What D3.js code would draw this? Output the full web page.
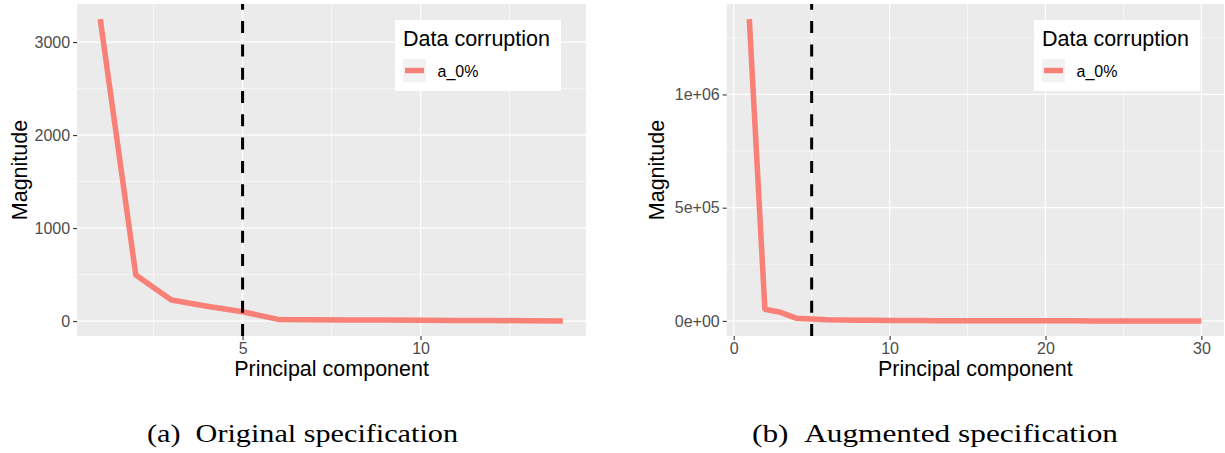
<!DOCTYPE html>
<html><head><meta charset="utf-8">
<script src="https://cdn.jsdelivr.net/npm/d3@7"></script>
<style>body{margin:0;background:#fff}svg{display:block}</style>
</head><body>
<script>
// ---- data ----
const leftPC = d3.range(1, 15);
const leftValues = [3247, 495, 226, 160, 100, 18, 15, 13, 11, 9, 7, 6, 4, 2];
const leftYTicks = [0, 1000, 2000, 3000];
const leftYMinor = [500, 1500, 2500];
const leftXTicks = [5, 10];
const leftXMinor = [2.5, 7.5, 12.5];

const rightPC = d3.range(1, 31);
const rightValues = [1332700, 51600, 38000, 12000, 8000, 5000, 4000, 3000, 2500, 2000,
  1600, 1300, 1100, 900, 700, 600, 500, 400, 350, 300, 250, 200, 150, 120, 100, 80, 60, 40, 20, 10];
const rightYTicks = [0, 500000, 1000000];
const rightYTickLabels = ["0e+00", "5e+05", "1e+06"];
const rightYMinor = [250000, 750000, 1250000];
const rightXTicks = [0, 10, 20, 30];
const rightXMinor = [5, 15, 25];

const cutoff = 5;
const seriesName = "a_0%";
const legendTitle = "Data corruption";
const captions = ["(a)\u2002Original specification", "(b)\u2002Augmented specification"];

const W = 1225, H = 453;
const svg = d3.select("body").append("svg").attr("width", W).attr("height", H);
svg.append("rect").attr("width", W).attr("height", H).attr("fill", "#fff");

const sans = "'Liberation Sans', Arial, sans-serif";

function panel(cfg) {
  const {x0, x1, y0, y1, pcs, vals, yTicks, yLabels, yMinor, xTicks, xMinor, titleX, legendX, caption, capX, capLen} = cfg;
  const g = svg.append("g");
  const xd = d3.extent(pcs), xe = (xd[1] - xd[0]) * 0.05;
  const yd = [0, d3.max(vals)], ye = (yd[1] - d3.min(vals)) * 0.05;
  const x = d3.scaleLinear().domain([xd[0] - xe, xd[1] + xe]).range([x0, x1]);
  const y = d3.scaleLinear().domain([d3.min(vals) - ye, yd[1] + ye]).range([y1, y0]);

  g.append("rect").attr("x", x0).attr("y", y0).attr("width", x1 - x0).attr("height", y1 - y0).attr("fill", "#EBEBEB");
  // minor grid
  g.selectAll(".ymn").data(yMinor).join("line")
    .attr("x1", x0).attr("x2", x1).attr("y1", d => y(d)).attr("y2", d => y(d))
    .attr("stroke", "#fff").attr("stroke-width", 0.6);
  g.selectAll(".xmn").data(xMinor).join("line")
    .attr("y1", y0).attr("y2", y1).attr("x1", d => x(d)).attr("x2", d => x(d))
    .attr("stroke", "#fff").attr("stroke-width", 0.6);
  // major grid
  g.selectAll(".ymj").data(yTicks).join("line")
    .attr("x1", x0).attr("x2", x1).attr("y1", d => y(d)).attr("y2", d => y(d))
    .attr("stroke", "#fff").attr("stroke-width", 1.3);
  g.selectAll(".xmj").data(xTicks).join("line")
    .attr("y1", y0).attr("y2", y1).attr("x1", d => x(d)).attr("x2", d => x(d))
    .attr("stroke", "#fff").attr("stroke-width", 1.3);

  // axes
  const ya = d3.axisLeft(y).tickValues(yTicks).tickSize(4).tickPadding(3)
    .tickFormat((d, i) => yLabels ? yLabels[i] : d);
  const yg = g.append("g").attr("transform", `translate(${x0},0)`).call(ya);
  yg.select(".domain").remove();
  yg.selectAll("line").attr("stroke", "#333").attr("stroke-width", 1.1);
  yg.selectAll("text").attr("fill", "#4D4D4D").style("font-family", sans).style("font-size", "16px");

  const xa = d3.axisBottom(x).tickValues(xTicks).tickSize(4).tickPadding(3);
  const xg = g.append("g").attr("transform", `translate(0,${y1})`).call(xa);
  xg.select(".domain").remove();
  xg.selectAll("line").attr("stroke", "#333").attr("stroke-width", 1.1);
  xg.selectAll("text").attr("fill", "#4D4D4D").style("font-family", sans).style("font-size", "16px");

  // line
  const line = d3.line().x((d, i) => x(pcs[i])).y(d => y(d));
  g.append("path").datum(vals).attr("d", line).attr("fill", "none")
    .attr("stroke", "#F8766D").attr("stroke-opacity", 0.92).attr("stroke-width", 5.5)
    .attr("stroke-linejoin", "round");

  // cutoff (drawn bottom to top so the dash pattern starts at the bottom)
  g.append("line").attr("x1", x(cutoff)).attr("x2", x(cutoff)).attr("y1", y1).attr("y2", y0)
    .attr("stroke", "#000").attr("stroke-width", 3).attr("stroke-dasharray", "12,11.3");

  // axis titles
  g.append("text").attr("x", (x0 + x1) / 2).attr("y", 376).attr("text-anchor", "middle")
    .style("font-family", sans).style("font-size", "21.5px").text("Principal component");
  g.append("text").attr("transform", `translate(${titleX},${(y0 + y1) / 2}) rotate(-90)`)
    .attr("text-anchor", "middle").style("font-family", sans).style("font-size", "21.5px").text("Magnitude");

  // legend
  const lg = g.append("g").attr("transform", `translate(${legendX},20)`);
  lg.append("rect").attr("width", 166).attr("height", 71).attr("fill", "#fff");
  lg.append("text").attr("x", 8).attr("y", 26).style("font-family", sans).style("font-size", "21.5px").text(legendTitle);
  lg.append("rect").attr("x", 8).attr("y", 39).attr("width", 23).attr("height", 23).attr("fill", "#F2F2F2");
  lg.append("line").attr("x1", 10).attr("x2", 29).attr("y1", 50.5).attr("y2", 50.5)
    .attr("stroke", "#F8766D").attr("stroke-opacity", 0.92).attr("stroke-width", 5.5);
  lg.append("text").attr("x", 42.5).attr("y", 56.5).style("font-family", sans).style("font-size", "16px").text(seriesName);

  // caption
  svg.append("text").attr("x", capX).attr("y", 442).attr("textLength", capLen).attr("lengthAdjust", "spacingAndGlyphs")
    .style("font-family", "'Liberation Serif', 'DejaVu Serif', serif").style("font-size", "26px").text(caption);
}

panel({x0: 77.1, x1: 586, y0: 4, y1: 336, pcs: leftPC, vals: leftValues,
  yTicks: leftYTicks, yLabels: null, yMinor: leftYMinor, xTicks: leftXTicks, xMinor: leftXMinor,
  titleX: 27, legendX: 395, caption: captions[0], capX: 147, capLen: 311});
panel({x0: 726.7, x1: 1224, y0: 4, y1: 336, pcs: rightPC, vals: rightValues,
  yTicks: rightYTicks, yLabels: rightYTickLabels, yMinor: rightYMinor, xTicks: rightXTicks, xMinor: rightXMinor,
  titleX: 664, legendX: 1034, caption: captions[1], capX: 752, capLen: 366});
</script>
</body></html>
